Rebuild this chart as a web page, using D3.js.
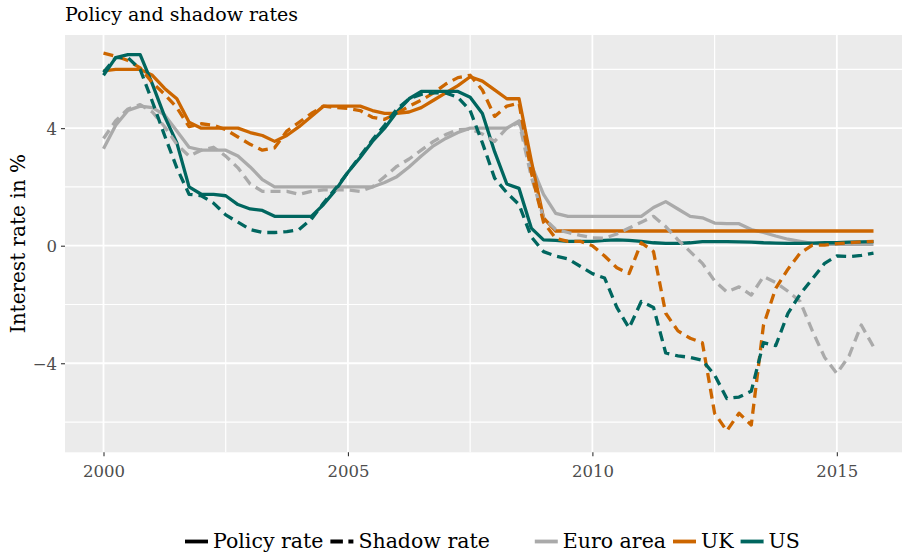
<!DOCTYPE html>
<html><head><meta charset="utf-8">
<script src="https://cdn.jsdelivr.net/npm/d3@7"></script>
<style>
html,body{margin:0;padding:0;background:#fff;}
svg{display:block;font-family:"DejaVu Serif",serif;}
</style></head><body>
<svg id="chart" width="902" height="557"></svg>
<script>
// quarterly dates 2000Q1 .. 2015Q4
const quarters = d3.range(64).map(i => 2000 + i * 0.25);

const usPolicy = [5.8,6.4,6.5,6.5, 5.5,4.4,3.5,2.0, 1.75,1.75,1.7,1.4, 1.25,1.2,1.0,1.0,
  1.0,1.0,1.4,1.9, 2.5,3.0,3.55,4.0, 4.55,5.0,5.25,5.25, 5.25,5.25,5.05,4.5,
  3.2,2.1,1.95,0.6, 0.2,0.18,0.15,0.15, 0.15,0.18,0.2,0.18, 0.15,0.1,0.08,0.08,
  0.1,0.14,0.14,0.14, 0.13,0.12,0.1,0.09, 0.08,0.08,0.09,0.1, 0.1,0.12,0.13,0.14];
const usShadow = [5.9,6.4,6.4,6.0, 4.9,3.75,2.65,1.75, 1.7,1.45,1.05,0.8, 0.55,0.45,0.45,0.48,
  0.55,0.9,1.45,1.95, 2.5,3.05,3.6,4.1, 4.65,5.0,5.15,5.2, 5.2,5.05,4.6,3.5,
  2.3,1.8,1.4,0.3, -0.2,-0.35,-0.45,-0.7, -0.95,-1.1,-2.1,-2.8, -1.9,-2.1,-3.65,-3.75,
  -3.8,-3.9,-4.4,-5.2, -5.15,-4.95,-3.3,-3.4, -2.3,-1.65,-1.13,-0.6, -0.35,-0.37,-0.33,-0.25];
const ukPolicy = [5.95,6.0,6.0,6.0, 5.8,5.35,5.0,4.2, 4.0,4.0,4.0,4.0, 3.85,3.75,3.55,3.75,
  4.05,4.4,4.75,4.75, 4.75,4.75,4.6,4.5, 4.5,4.55,4.7,4.95, 5.2,5.45,5.75,5.6,
  5.3,5.0,5.0,2.9, 0.95,0.5,0.5,0.5, 0.5,0.5,0.5,0.5, 0.5,0.5,0.5,0.5,
  0.5,0.5,0.5,0.5, 0.5,0.5,0.5,0.5, 0.5,0.5,0.5,0.5, 0.5,0.5,0.5,0.5];
const ukShadow = [6.55,6.45,6.3,6.05, 5.55,5.15,4.7,4.05, 4.15,4.1,3.95,3.7, 3.45,3.25,3.33,3.9,
  4.2,4.5,4.75,4.7, 4.67,4.6,4.37,4.3, 4.5,4.75,4.95,5.2, 5.5,5.72,5.8,5.3,
  4.4,4.75,4.85,2.5, 0.8,0.25,0.15,0.15, 0.0,-0.35,-0.75,-0.95, 0.1,-0.2,-2.3,-2.9,
  -3.15,-3.3,-5.7,-6.3, -5.7,-6.1,-2.7,-1.45, -0.8,-0.25,0.02,0.02, 0.07,0.1,0.13,0.15];
const euroPolicy = [3.3,4.1,4.6,4.75, 4.7,4.45,3.9,3.35, 3.25,3.25,3.25,3.05, 2.68,2.25,2.0,2.0,
  2.0,2.0,2.0,2.0, 2.0,2.0,2.0,2.15, 2.35,2.68,3.05,3.4, 3.65,3.85,4.0,4.0,
  4.0,4.0,4.25,2.75, 1.75,1.1,1.0,1.0, 1.0,1.0,1.0,1.0, 1.0,1.3,1.5,1.25,
  1.0,0.95,0.77,0.75, 0.75,0.55,0.45,0.33, 0.22,0.15,0.08,0.05, 0.05,0.05,0.05,0.05];
const euroShadow = [3.65,4.25,4.65,4.8, 4.55,4.05,3.45,3.05, 3.25,3.35,3.05,2.65, 2.1,1.85,1.85,1.85,
  1.75,1.85,1.9,1.9, 1.9,1.85,2.0,2.35, 2.7,2.95,3.25,3.55, 3.78,3.95,3.97,3.8,
  3.55,4.0,4.2,2.35, 0.95,0.55,0.45,0.35, 0.27,0.26,0.4,0.6, 0.8,1.0,0.65,0.2,
  -0.2,-0.6,-1.2,-1.57, -1.4,-1.68,-1.05,-1.25, -1.55,-1.9,-2.9,-3.8, -4.35,-3.75,-2.7,-3.44];

const regions = ["Euro area", "UK", "US"];
const regionColors = ["#AAAAAA", "#CC6600", "#00665F"];
const rateTypes = ["Policy rate", "Shadow rate"];
const xTicks = [2000, 2005, 2010, 2015];
const yTicks = [-4, 0, 4];

const series = [
  {region: "Euro area", type: "Policy rate", values: euroPolicy},
  {region: "UK", type: "Policy rate", values: ukPolicy},
  {region: "US", type: "Policy rate", values: usPolicy},
  {region: "Euro area", type: "Shadow rate", values: euroShadow},
  {region: "UK", type: "Shadow rate", values: ukShadow},
  {region: "US", type: "Shadow rate", values: usShadow}
];

const svg = d3.select("#chart");
const panel = {left: 65, right: 912, top: 35, bottom: 452.3};

const x = d3.scaleLinear().domain([1999.2125, 2016.5375]).range([panel.left, panel.right]);
const y = d3.scaleLinear().domain([-7.03, 7.17]).range([panel.bottom, panel.top]);
const color = d3.scaleOrdinal().domain(regions).range(regionColors);
const dash = d3.scaleOrdinal().domain(rateTypes).range(["none", "10,6"]);

svg.append("defs").append("clipPath").attr("id", "clip")
  .append("rect").attr("x", panel.left).attr("y", panel.top)
  .attr("width", panel.right - panel.left).attr("height", panel.bottom - panel.top);

svg.append("rect").attr("x", panel.left).attr("y", panel.top)
  .attr("width", panel.right - panel.left).attr("height", panel.bottom - panel.top)
  .attr("fill", "#EBEBEB");

// minor grid
const xMinor = [2002.5, 2007.5, 2012.5];
const yMinor = [-6, -2, 2, 6];
const grid = svg.append("g");
grid.selectAll(".xm").data(xMinor).join("line")
  .attr("x1", d => x(d)).attr("x2", d => x(d)).attr("y1", panel.top).attr("y2", panel.bottom)
  .attr("stroke", "#fff").attr("stroke-width", 1.2);
grid.selectAll(".ym").data(yMinor).join("line")
  .attr("y1", d => y(d)).attr("y2", d => y(d)).attr("x1", panel.left).attr("x2", panel.right)
  .attr("stroke", "#fff").attr("stroke-width", 1.2);
grid.selectAll(".xM").data(xTicks).join("line")
  .attr("x1", d => x(d)).attr("x2", d => x(d)).attr("y1", panel.top).attr("y2", panel.bottom)
  .attr("stroke", "#fff").attr("stroke-width", 1.8);
grid.selectAll(".yM").data(yTicks).join("line")
  .attr("y1", d => y(d)).attr("y2", d => y(d)).attr("x1", panel.left).attr("x2", panel.right)
  .attr("stroke", "#fff").attr("stroke-width", 1.8);

// axes
const fmt = d => d < 0 ? "\u2212" + Math.abs(d) : String(d);
const xAxis = svg.append("g").attr("transform", `translate(0,${panel.bottom})`)
  .call(d3.axisBottom(x).tickValues(xTicks).tickFormat(d3.format("d")).tickSize(4).tickPadding(5));
const yAxis = svg.append("g").attr("transform", `translate(${panel.left},0)`)
  .call(d3.axisLeft(y).tickValues(yTicks).tickFormat(fmt).tickSize(4).tickPadding(4));
[xAxis, yAxis].forEach(a => {
  a.select(".domain").remove();
  a.selectAll(".tick line").attr("stroke", "#333").attr("stroke-width", 1.1);
  a.selectAll(".tick text").attr("fill", "#4D4D4D").style("font-size", "16.5px")
    .style("font-family", "DejaVu Serif");
});
xAxis.selectAll(".tick text").attr("dy", "0.95em");
yAxis.selectAll(".tick text").attr("dy", "0.36em");

// lines
const line = d3.line().x((d, i) => x(quarters[i])).y(d => y(d));
svg.append("g").attr("clip-path", "url(#clip)")
  .selectAll("path").data(series).join("path")
  .attr("d", d => line(d.values))
  .attr("fill", "none")
  .attr("stroke", d => color(d.region))
  .attr("stroke-width", 3.3)
  .attr("stroke-linejoin", "round")
  .attr("stroke-dasharray", d => dash(d.type));

// title
svg.append("text").attr("x", 65).attr("y", 21).text("Policy and shadow rates")
  .style("font-size", "19px").attr("fill", "#000");

// y axis title
svg.append("text").attr("transform", `translate(25,${(panel.top + panel.bottom) / 2}) rotate(-90)`)
  .attr("text-anchor", "middle").text("Interest rate in %")
  .style("font-size", "20px").attr("fill", "#000");

// legend
const leg = svg.append("g").style("font-size", "20.5px");
let cx = 185;
const ly = 541.5, keyW = 23;
function addItem(label, stroke, dasharr) {
  leg.append("line").attr("x1", cx).attr("x2", cx + keyW).attr("y1", ly).attr("y2", ly)
    .attr("stroke", stroke).attr("stroke-width", 3.8).attr("stroke-dasharray", dasharr);
  const t = leg.append("text").attr("x", cx + keyW + 5).attr("y", ly + 6.5).text(label).attr("fill", "#000");
  cx += keyW + 5 + t.node().getComputedTextLength() + 7;
}
rateTypes.forEach(t => addItem(t, "#000", t === "Policy rate" ? "none" : "12.5,5.5"));
cx += 38;
regions.forEach(r => addItem(r, color(r), "none"));
</script>
</body></html>
